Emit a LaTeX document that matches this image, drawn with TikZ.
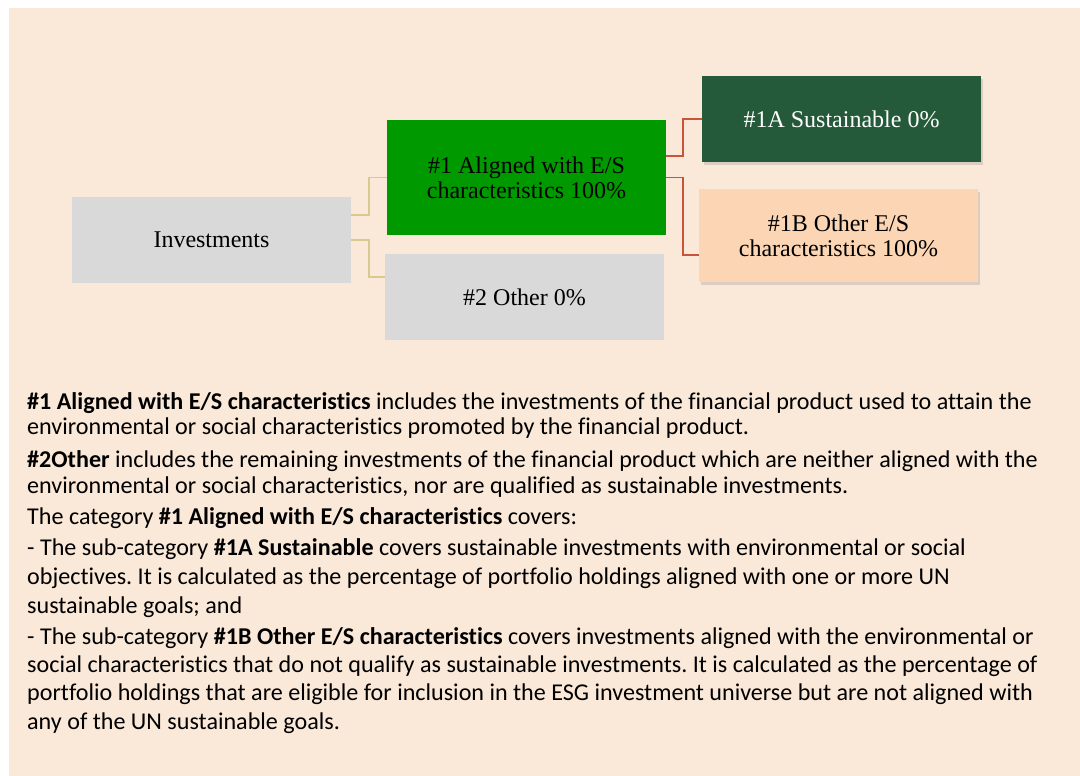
\documentclass[tikz,border=0pt]{standalone}
\usepackage{fontspec}
\setmainfont{Liberation Serif}
\newfontfamily\bodyfont[Ligatures={NoCommon}]{Carlito}
\usetikzlibrary{shadows}
\frenchspacing
\definecolor{bgc}{HTML}{FAE8D8}
\definecolor{boxgray}{HTML}{D9D9D9}
\definecolor{brightgreen}{HTML}{009900}
\definecolor{darkgreen}{HTML}{245A3A}
\definecolor{peach}{HTML}{FCD5B4}
\definecolor{tanline}{HTML}{D8C98C}
\definecolor{redline}{HTML}{C8553A}
\tikzset{
  boxnode/.style={rectangle, inner sep=0pt, minimum width=279pt, align=center, font=\fontsize{24}{25}\selectfont},
  shadowed/.style={drop shadow={shadow xshift=1.5pt, shadow yshift=-3pt, opacity=0.25}},
  tanconn/.style={draw=tanline, line width=1.6pt},
  redconn/.style={draw=redline, line width=1.6pt},
  bodyline/.style={anchor=base west, inner sep=0pt, font=\bodyfont\fontsize{24.1}{28}\selectfont},
}
\begin{document}
\begin{tikzpicture}[x=1pt,y=-1pt]
\useasboundingbox (0,0) rectangle (1080,776);
\fill[bgc] (9,8) rectangle (1080,776);
% boxes
\node[boxnode, fill=boxgray, minimum height=86pt] (inv) at (211.5,240) {Investments};
\node[boxnode, fill=brightgreen, minimum height=115pt] (a1) at (526.5,177.5) {\#1 Aligned with E/S\\characteristics 100\%};
\node[boxnode, fill=boxgray, minimum height=86pt] (o2) at (524.5,297) {\#2 Other 0\%};
\node[boxnode, shadowed, fill=darkgreen, text=white, minimum height=86pt] (s1a) at (841.5,119) {\#1A Sustainable 0\%};
\node[boxnode, shadowed, fill=peach, minimum height=93pt] (s1b) at (838.5,235.5) {\#1B Other E/S\\characteristics 100\%};
% connectors
\draw[tanconn] ([yshift=25pt]inv.east) -- ++(18,0) |- (a1.west);
\draw[tanconn] (inv.east) -- ++(18,0) |- ([yshift=20pt]o2.west);
\draw[redconn] ([yshift=21.5pt]a1.east) -- ++(17,0) |- (s1a.west);
\draw[redconn] (a1.east) -- ++(17,0) |- ([yshift=-19.5pt]s1b.west);
% text
\node[bodyline] (t1) at (27,409) {\textbf{\#1 Aligned with E/S characteristics} includes the investments of the financial product used to attain the};
\node[bodyline] (t2) at (27,434) {environmental or social characteristics promoted by the financial product.};
\node[bodyline] (t3) at (27,467) {\textbf{\#2Other} includes the remaining investments of the financial product which are neither aligned with the};
\node[bodyline] (t4) at (27,493) {environmental or social characteristics, nor are qualified as sustainable investments.};
\node[bodyline] (t5) at (27,524) {The category \textbf{\#1 Aligned with E/S characteristics} covers:};
\node[bodyline] (t6) at (27,555) {- The sub-category \textbf{\#1A Sustainable} covers sustainable investments with environmental or social};
\node[bodyline] (t7) at (27,584) {objectives. It is calculated as the percentage of portfolio holdings aligned with one or more UN};
\node[bodyline] (t8) at (27,613) {sustainable goals; and};
\node[bodyline] (t9) at (27,644) {- The sub-category \textbf{\#1B Other E/S characteristics} covers investments aligned with the environmental or};
\node[bodyline] (t10) at (27,672) {social characteristics that do not qualify as sustainable investments. It is calculated as the percentage of};
\node[bodyline] (t11) at (27,700) {portfolio holdings that are eligible for inclusion in the ESG investment universe but are not aligned with};
\node[bodyline] (t12) at (27,729) {any of the UN sustainable goals.};
\end{tikzpicture}
\end{document}
